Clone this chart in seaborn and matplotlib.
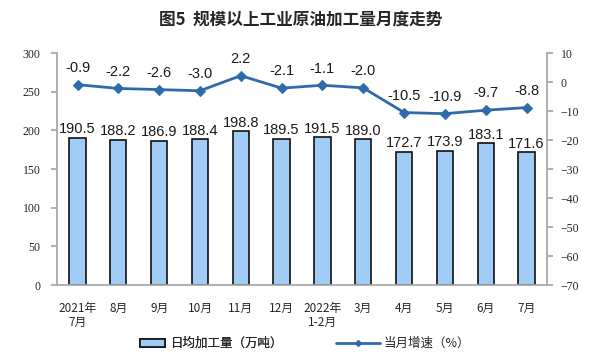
import matplotlib
matplotlib.use("Agg")
import matplotlib.pyplot as plt
import seaborn as sns
import pandas as pd
from matplotlib.patches import Patch
from matplotlib.lines import Line2D

categories = ["2021年\n7月", "8月", "9月", "10月", "11月", "12月", "2022年\n1-2月", "3月", "4月", "5月", "6月", "7月"]
daily_output = [190.5, 188.2, 186.9, 188.4, 198.8, 189.5, 191.5, 189.0, 172.7, 173.9, 183.1, 171.6]
growth = [-0.9, -2.2, -2.6, -3.0, 2.2, -2.1, -1.1, -2.0, -10.5, -10.9, -9.7, -8.8]
left_ticks = [0, 50, 100, 150, 200, 250, 300]
right_ticks = [10, 0, -10, -20, -30, -40, -50, -60, -70]
title = "图5  规模以上工业原油加工量月度走势"
bar_label = "日均加工量（万吨）"
line_label = "当月增速（%）"

sns.set_theme(style="white")
plt.rcParams['font.family'] = ['Noto Sans CJK SC', 'DejaVu Sans']

df = pd.DataFrame({"cat": categories, "val": daily_output, "g": growth})

fig = plt.figure(figsize=(6.01, 3.56), dpi=100)
ax = fig.add_axes([0.095, 0.199, 0.815, 0.652])
bar_color = "#A0CBF5"
line_color = "#2F6BAA"
axis_color = "#A6A6A6"

sns.barplot(data=df, x="cat", y="val", color=bar_color, edgecolor="#111111",
            linewidth=1.2, width=0.4, saturation=1, ax=ax)
ax.set_ylim(0, 300)
ax.set_yticks(left_ticks)
ax.set_xlim(-0.5, len(categories) - 0.5)
for c in ax.containers:
    ax.bar_label(c, fmt="%.1f", padding=1, fontsize=10.5, family="Liberation Sans", color="#1A1A1A")

ax2 = ax.twinx()
sns.lineplot(x=list(range(len(categories))), y=growth, ax=ax2, color=line_color, linewidth=2,
             marker="D", markersize=5, markeredgecolor=line_color)
ax2.set_ylim(-70, 10)
ax2.set_yticks(right_ticks)
ax2.set_xlim(-0.5, len(categories) - 0.5)
for i, v in enumerate(growth):
    ax2.annotate(f"{v:.1f}", (i, v), xytext=(0, 7), textcoords="offset points",
                 ha="center", va="bottom", fontsize=10.5, family="Liberation Sans", color="#1A1A1A")

ax.set_xlabel("")
ax.set_ylabel("")
ax2.set_ylabel("")
ax.set_xticks(range(len(categories)))
ax.set_xticklabels(categories, fontsize=8.5, linespacing=1.1)
for a in (ax, ax2):
    a.spines["top"].set_visible(False)
ax.spines["right"].set_visible(False)
ax2.spines["left"].set_visible(False)
ax2.spines["bottom"].set_visible(False)
ax.spines["left"].set_color(axis_color)
ax.spines["bottom"].set_color(axis_color)
ax2.spines["right"].set_color(axis_color)
ax.tick_params(axis="y", left=True, length=4, color=axis_color, labelsize=8.5, pad=8)
ax.tick_params(axis="x", bottom=False, labelsize=8.5, pad=6)
ax2.tick_params(axis="y", right=True, length=4, color=axis_color, labelsize=8.5, pad=6)
for t in ax.get_yticklabels() + ax2.get_yticklabels():
    t.set_family("Liberation Serif")

fig.text(0.5, 0.945, title, ha="center", va="center", fontsize=12, fontweight="bold")

leg1 = fig.legend([Patch(facecolor=bar_color, edgecolor="#111111", linewidth=1.2)], [bar_label],
                  loc="center left", bbox_to_anchor=(0.215, 0.035), frameon=False, fontsize=9,
                  handlelength=2.0, handleheight=0.6, handletextpad=0.4)
fig.add_artist(leg1)
fig.legend([Line2D([0], [0], color=line_color, linewidth=2, marker="D", markersize=3)], [line_label],
           loc="center left", bbox_to_anchor=(0.54, 0.035), frameon=False, fontsize=9,
           handlelength=3.5, handletextpad=0.3)

fig.savefig("out.png", dpi=100)
